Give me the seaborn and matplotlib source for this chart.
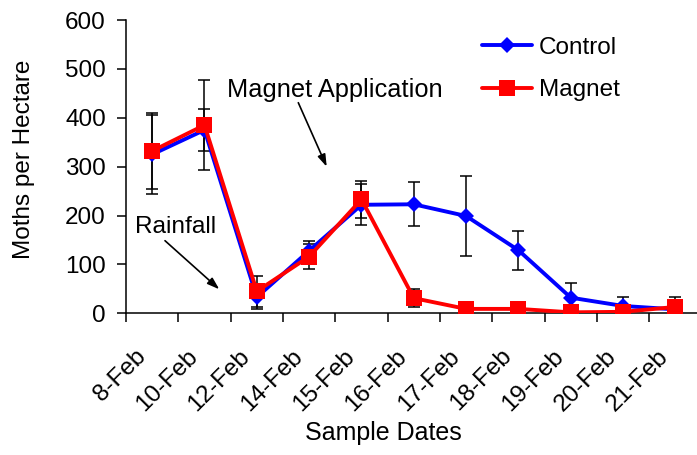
import matplotlib
matplotlib.use("Agg")
import matplotlib.pyplot as plt
from matplotlib.transforms import ScaledTranslation
import seaborn as sns
import pandas as pd

dates = ['8-Feb', '10-Feb', '12-Feb', '14-Feb', '15-Feb', '16-Feb',
         '17-Feb', '18-Feb', '19-Feb', '20-Feb', '21-Feb']
control = [325, 375, 33, 128, 222, 223, 199, 129, 32, 15, 8]
control_err = [80, 42, 24, 20, 42, 45, 81, 40, 29, 18, 20]
magnet = [332, 385, 45, 116, 233, 31, 9, 9, 2, 3, 13]
magnet_err = [78, 92, 32, 26, 38, 18, 6, 6, 3, 4, 20]
y_ticks = [0, 100, 200, 300, 400, 500, 600]

sns.set_theme(style="white")
plt.rcParams['font.family'] = ['Liberation Sans', 'DejaVu Sans']
plt.rcParams['text.color'] = 'black'
plt.rcParams['axes.labelcolor'] = 'black'
plt.rcParams['xtick.color'] = 'black'
plt.rcParams['ytick.color'] = 'black'

W, H = 697, 455
fig = plt.figure(figsize=(W / 100, H / 100), dpi=100)
ax_l, ax_r, ax_t, ax_b = 126, 701.6, 20, 313.3
ax = fig.add_axes([ax_l / W, 1 - ax_b / H, (ax_r - ax_l) / W, (ax_b - ax_t) / H])

df = pd.DataFrame({'date': dates, 'control': control, 'magnet': magnet})

ax.errorbar(dates, control, yerr=control_err, fmt='none', ecolor='black',
            elinewidth=1.1, capsize=4.5, capthick=1.1, zorder=2)
ax.errorbar(dates, magnet, yerr=magnet_err, fmt='none', ecolor='black',
            elinewidth=1.1, capsize=4.5, capthick=1.1, zorder=2)

sns.lineplot(data=df, x='date', y='control', ax=ax, color='#0000FF',
             marker='D', markersize=8.5, markeredgecolor='#0000FF',
             markeredgewidth=0, linewidth=2.8, label='Control', zorder=3,
             sort=False)
sns.lineplot(data=df, x='date', y='magnet', ax=ax, color='#FF0000',
             marker='s', markersize=11, markeredgecolor='#FF0000',
             markeredgewidth=0, linewidth=2.8, label='Magnet', zorder=4,
             sort=False)

n = len(dates)
ax.set_xlim(-0.5, n - 0.5)
ax.set_ylim(0, 600)
ax.set_yticks(y_ticks)
ax.set_xticks(range(n))
ax.set_xticklabels(dates)
ax.set_xticks([i - 0.5 for i in range(n + 1)], minor=True)

for side in ['top', 'right']:
    ax.spines[side].set_visible(False)
for side in ['left', 'bottom']:
    ax.spines[side].set_color('black')
    ax.spines[side].set_linewidth(1.1)

ax.tick_params(axis='y', which='major', direction='out', length=6.5, width=1.1,
               color='black', labelcolor='black', labelsize=17.5, pad=8, left=True)
ax.tick_params(axis='x', which='major', length=0, labelsize=17.5, pad=28.5,
               labelcolor='black', bottom=True)
ax.tick_params(axis='x', which='minor', direction='out', length=6.5, width=1.1,
               color='black', bottom=True)

off = ScaledTranslation(-10 / 100, 0, fig.dpi_scale_trans)
for lab in ax.get_xticklabels():
    lab.set_rotation(45)
    lab.set_rotation_mode('anchor')
    lab.set_ha('right')
    lab.set_va('center')
    lab.set_transform(lab.get_transform() + off)

ax.set_xlabel('Sample Dates', fontsize=18, va='center', color='black')
ax.xaxis.set_label_coords((383 - ax_l) / (ax_r - ax_l), (ax_b - 433) / (ax_b - ax_t))
ax.set_ylabel('Moths per Hectare', fontsize=17.5, va='center', color='black')
ax.yaxis.set_label_coords((24 - ax_l) / (ax_r - ax_l), (ax_b - 159) / (ax_b - ax_t))

def fx(px):
    return (px - ax_l) / (ax_r - ax_l)

def fy(py):
    return (ax_b - py) / (ax_b - ax_t)

ax.text(fx(226.7), fy(96.7), 'Magnet Application', transform=ax.transAxes,
        fontsize=18.3, ha='left', va='baseline', color='black')
ax.annotate('', xy=(fx(326.7), fy(166.7)), xytext=(fx(298.3), fy(102.7)),
            xycoords='axes fraction', textcoords='axes fraction',
            arrowprops=dict(arrowstyle='-|>,head_length=0.6,head_width=0.2',
                            color='black', lw=1.2, shrinkA=0, shrinkB=0))
ax.text(fx(135), fy(232.7), 'Rainfall', transform=ax.transAxes,
        fontsize=17.6, ha='left', va='baseline', color='black')
ax.annotate('', xy=(fx(219.3), fy(289.3)), xytext=(fx(165), fy(240.7)),
            xycoords='axes fraction', textcoords='axes fraction',
            arrowprops=dict(arrowstyle='-|>,head_length=0.6,head_width=0.2',
                            color='black', lw=1.2, shrinkA=0, shrinkB=0))

leg = ax.legend(loc='upper left', bbox_to_anchor=(481.7 / W, 1 - 36.5 / H),
                bbox_transform=fig.transFigure, frameon=False, fontsize=17.5,
                handlelength=2.05, handletextpad=0.3, labelspacing=0.85,
                borderpad=0, borderaxespad=0)
for t in leg.get_texts():
    t.set_color('black')

fig.savefig('out.png', dpi=100)
